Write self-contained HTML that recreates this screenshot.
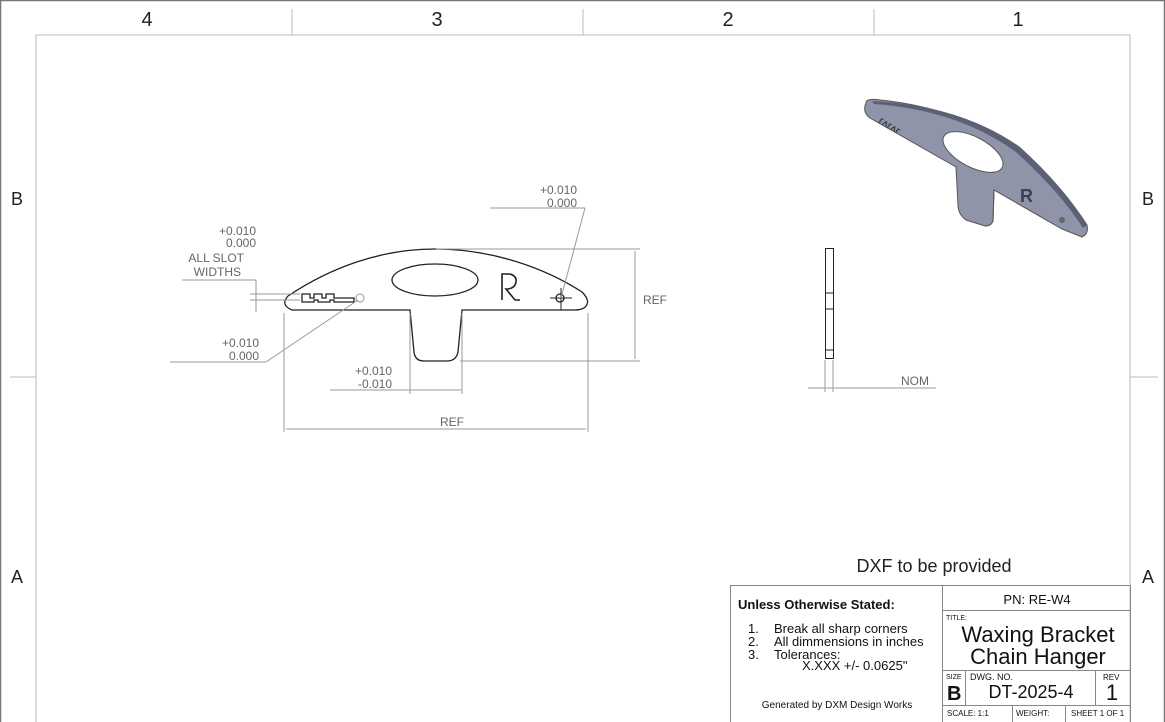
<!DOCTYPE html>
<html><head><meta charset="utf-8"><style>
html,body{margin:0;padding:0;background:#fff}
svg{display:block;font-family:"Liberation Sans",sans-serif}
</style></head><body>
<svg width="1165" height="722" viewBox="0 0 1165 722" xmlns="http://www.w3.org/2000/svg">
<rect x="0.5" y="0.5" width="1164" height="725" fill="none" stroke="#777" stroke-width="1.5"/>
<rect x="36" y="35" width="1094" height="700" fill="none" stroke="#bbb" stroke-width="1"/>
<g stroke="#bbb" stroke-width="1">
<line x1="292" y1="9" x2="292" y2="35"/><line x1="583" y1="9" x2="583" y2="35"/><line x1="874" y1="9" x2="874" y2="35"/>
<line x1="10" y1="377" x2="36" y2="377"/><line x1="1130" y1="377" x2="1158" y2="377"/>
</g>
<g font-size="20" fill="#222" text-anchor="middle">
<text x="147" y="26">4</text><text x="437" y="26">3</text><text x="728" y="26">2</text><text x="1018" y="26">1</text>
<text x="17" y="205" font-size="18">B</text><text x="1148" y="205" font-size="18">B</text>
<text x="17" y="583" font-size="18">A</text><text x="1148" y="583" font-size="18">A</text>
</g>

<!-- front view -->
<g fill="none" stroke="#222" stroke-width="1.3">
<path d="M288,296 C330,268 380,249 435,249 C492,249 545,268 582,292 Q592,302 584,308 Q580,310 575,310 L462,310 L458,352 Q456,361 447,361 L424,361 Q415,361 414,352 L410,310 L292,310 Q280,305 288,296 Z"/>
<ellipse cx="435" cy="280" rx="43" ry="16"/>
<path d="M302,302 L302,294 L310,294 L310,298 L314,298 L314,294 L322,294 L322,298 L326,298 L326,294 L334,294 L334,298 L354,298 L354,302 L334,302 L334,300 L330,300 L330,302 L318,302 L318,300 L314,300 L314,302 Z"/>
<path d="M502,300 L502,274 L510,274 Q517,276 516,282 Q515,288 508,289 L506,289 L515,300 L520,300" stroke-width="1.6"/>
<circle cx="560" cy="298" r="4"/>
</g>
<circle cx="360" cy="298" r="4" fill="none" stroke="#999"/>
<g stroke="#222" stroke-width="1"><line x1="550" y1="298" x2="572" y2="298"/><line x1="561" y1="288" x2="561" y2="310"/></g>
<g stroke="#999" stroke-width="1" fill="none">
<line x1="436" y1="249" x2="640" y2="249"/><line x1="460" y1="361" x2="640" y2="361"/>
<line x1="635" y1="251" x2="635" y2="359"/>
<line x1="284" y1="313" x2="284" y2="432"/><line x1="588" y1="313" x2="588" y2="432"/>
<line x1="286" y1="429" x2="586" y2="429"/>
<line x1="410" y1="313" x2="410" y2="394"/><line x1="462" y1="313" x2="462" y2="394"/>
<line x1="330" y1="390" x2="461" y2="390"/>
<line x1="490" y1="208" x2="585" y2="208"/><line x1="585" y1="208" x2="561" y2="298"/>
<line x1="182" y1="280" x2="256" y2="280"/><line x1="256" y1="280" x2="256" y2="312"/>
<line x1="250" y1="294" x2="300" y2="294"/><line x1="250" y1="300" x2="300" y2="300"/>
<line x1="170" y1="362" x2="266" y2="362"/><line x1="266" y1="362" x2="358" y2="300"/>
</g>
<g font-size="12" fill="#666" text-anchor="end">
<text x="577" y="194">+0.010</text><text x="577" y="207">0.000</text>
<text x="256" y="235">+0.010</text><text x="256" y="247">0.000</text>
<text x="244" y="262">ALL SLOT</text><text x="241" y="276">WIDTHS</text>
<text x="259" y="347">+0.010</text><text x="259" y="360">0.000</text>
<text x="392" y="375">+0.010</text><text x="392" y="388">-0.010</text>
</g>
<g font-size="12" fill="#666"><text x="643" y="304">REF</text><text x="440" y="426">REF</text><text x="901" y="385">NOM</text></g>

<!-- side view -->
<g fill="none" stroke="#222" stroke-width="1">
<rect x="825.5" y="248.5" width="8" height="110"/>
<line x1="825" y1="293" x2="834" y2="293"/><line x1="825" y1="309" x2="834" y2="309"/><line x1="825" y1="350" x2="834" y2="350"/>
</g>
<g stroke="#999"><line x1="825" y1="360" x2="825" y2="392"/><line x1="833" y1="360" x2="833" y2="392"/><line x1="808" y1="388" x2="936" y2="388"/></g>

<!-- iso view -->
<path d="M866,103 Q866,98 880,100 Q960,108 1020,150 Q1065,190 1087,225 Q1089,234 1082,237 L1062,229 L994,190 L993,220 Q992,226 985,226 L966,220 Q958,214 958,205 L956,167 L870,118 Q862,112 866,103 Z" fill="#8f94a8" stroke="#555" stroke-width="1"/>
<path d="M872,101 Q960,105 1020,147 Q1065,188 1087,225 L1083,228 Q1060,192 1016,152 Q958,110 874,104 Z" fill="#5c6075"/>
<ellipse cx="973" cy="152" rx="33" ry="15" transform="rotate(28 973 152)" fill="#fff" stroke="#555"/>
<path d="M994,190 L993,222" stroke="#555"/>
<text x="1020" y="202" font-size="18" font-weight="bold" fill="#3c3f50">R</text>
<text x="878" y="122" font-size="10" font-weight="bold" fill="#3c3f50" transform="rotate(32 878 122)">ᴦᴧᴦᴧᴦ</text>
<circle cx="1062" cy="220" r="3" fill="#666"/>

<!-- title block -->
<text x="934" y="572" font-size="18" fill="#222" text-anchor="middle">DXF to be provided</text>
<g stroke="#888" stroke-width="1" fill="none">
<rect x="730.5" y="585.5" width="400" height="140"/>
<line x1="942.5" y1="585" x2="942.5" y2="722"/>
<line x1="942" y1="610.5" x2="1131" y2="610.5"/>
<line x1="942" y1="670.5" x2="1131" y2="670.5"/>
<line x1="942" y1="705.5" x2="1131" y2="705.5"/>
<line x1="965.5" y1="670" x2="965.5" y2="705"/>
<line x1="1095.5" y1="670" x2="1095.5" y2="705"/>
<line x1="1012.5" y1="705" x2="1012.5" y2="722"/>
<line x1="1065.5" y1="705" x2="1065.5" y2="722"/>
</g>
<g fill="#111">
<text x="738" y="609" font-size="13" font-weight="bold">Unless Otherwise Stated:</text>
<text x="748" y="633" font-size="13">1.</text><text x="774" y="633" font-size="13">Break all sharp corners</text>
<text x="748" y="646" font-size="13">2.</text><text x="774" y="646" font-size="13">All dimmensions in inches</text>
<text x="748" y="659" font-size="13">3.</text><text x="774" y="659" font-size="13">Tolerances:</text>
<text x="802" y="670" font-size="13">X.XXX +/- 0.0625"</text>
<text x="837" y="708" font-size="10" text-anchor="middle">Generated by DXM Design Works</text>
<text x="1037" y="604" font-size="13" text-anchor="middle">PN: RE-W4</text>
<text x="946" y="620" font-size="7">TITLE:</text>
<text x="1038" y="642" font-size="22" text-anchor="middle">Waxing Bracket</text>
<text x="1038" y="664" font-size="22" text-anchor="middle">Chain Hanger</text>
<text x="946" y="679" font-size="7">SIZE</text>
<text x="947" y="700" font-size="20" font-weight="bold">B</text>
<text x="970" y="680" font-size="9">DWG.  NO.</text>
<text x="1031" y="698" font-size="18" text-anchor="middle">DT-2025-4</text>
<text x="1103" y="680" font-size="8">REV</text>
<text x="1112" y="700" font-size="22" text-anchor="middle">1</text>
<text x="947" y="716" font-size="8">SCALE: 1:1</text>
<text x="1016" y="716" font-size="8">WEIGHT:</text>
<text x="1071" y="716" font-size="8">SHEET 1 OF 1</text>
</g>
</svg>
</body></html>
